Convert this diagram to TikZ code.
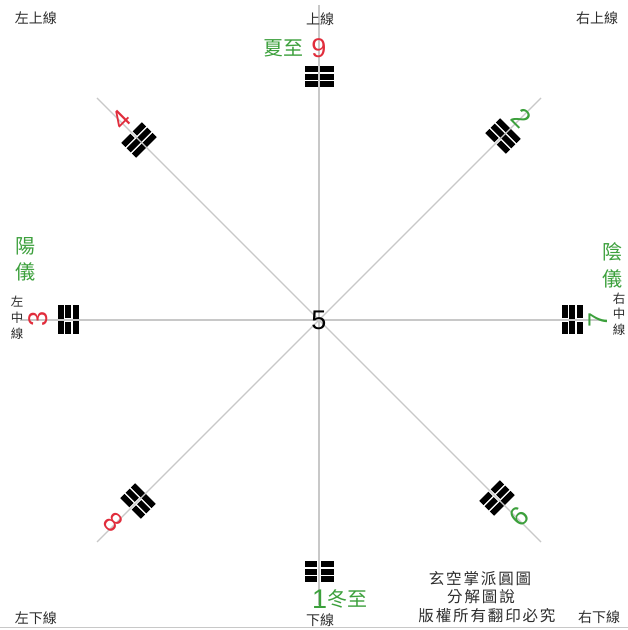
\documentclass[tikz,border=0pt]{standalone}
\usepackage{fontspec}
\newfontfamily\cjk{Noto Sans CJK TC}
\newfontfamily\cjkwide[LetterSpace=12]{Noto Sans CJK TC}
\newfontfamily\numf{Liberation Sans}
\definecolor{tgreen}{RGB}{60,160,60}
\definecolor{tred}{RGB}{225,45,60}
\definecolor{axisgray}{RGB}{200,200,200}
\definecolor{lbl}{RGB}{45,45,45}
\tikzset{
  axisline/.style={draw=axisgray, line width=1.4pt},
  smalllbl/.style={font=\cjk\fontsize{14}{16}\selectfont, text=lbl, inner sep=0pt},
  colchar/.style={font=\cjk\fontsize{12.5}{14}\selectfont, text=lbl, inner sep=0pt},
  greencjk/.style={font=\cjk\fontsize{20}{22}\selectfont, text=tgreen, inner sep=0pt},
  digit/.style={font=\numf\fontsize{27}{29}\selectfont, inner sep=0pt},
  reddigit/.style={digit, text=tred},
  greendigit/.style={digit, text=tgreen},
  notelbl/.style={font=\cjkwide\fontsize{15.5}{17}\selectfont, text=lbl, inner sep=0pt},
}
\newcommand\tgbar[2]{%
  \ifnum#2=1
    \fill (-14.5,#1) rectangle (14.5,#1+6);
  \else
    \fill (-14.5,#1) rectangle (-1.6,#1+6);
    \fill (1.6,#1) rectangle (14.5,#1+6);
  \fi}
\newcommand\trigram[5]{%
  \begin{scope}[shift={#1},rotate=#2]
    \tgbar{-10.5}{#3}
    \tgbar{-3}{#4}
    \tgbar{4.5}{#5}
  \end{scope}}
\begin{document}
\begin{tikzpicture}[x=1pt,y=1pt]
\useasboundingbox (0,0) rectangle (628,630);
\fill[white] (0,0) rectangle (628,630);
% trigrams
\trigram{(319,553)}{0}{1}{1}{1}
\trigram{(319,58)}{180}{0}{0}{0}
\trigram{(68,310)}{90}{1}{0}{1}
\trigram{(572,310)}{-90}{0}{1}{0}
\trigram{(139,490)}{45}{1}{1}{0}
\trigram{(503,494)}{-45}{0}{1}{1}
\trigram{(138,129)}{135}{1}{0}{0}
\trigram{(497,132)}{225}{0}{0}{1}
% axes
\coordinate (vt) at (319,625);
\coordinate (vb) at (319,25);
\coordinate (hl) at (20,310);
\coordinate (hr) at (600,310);
\coordinate (d1a) at (97,532);
\coordinate (d1b) at (541,88);
\coordinate (d2a) at (541,532);
\coordinate (d2b) at (97,88);
\coordinate (bl) at (0,2);
\coordinate (br) at (628,2);
\draw[axisline] (vt) -- (vb);
\draw[axisline] (hl) -- (hr);
\draw[axisline] (d1a) -- (d1b);
\draw[axisline] (d2a) -- (d2b);
\draw[axisgray, line width=1pt] (bl) -- (br);
% corner labels
\node[smalllbl] (ul) at (36,612) {左上線};
\node[smalllbl] (um) at (320,611) {上線};
\node[smalllbl] (ur) at (597,612) {右上線};
\node[smalllbl] (ll) at (36,12) {左下線};
\node[smalllbl] (lm) at (320,10) {下線};
\node[smalllbl] (lr) at (599,13) {右下線};
% top
\node[greencjk] (xz) at (283,582) {夏至};
\node[reddigit] (n9) at (319,582) {9};
% bottom
\node[greendigit, anchor=west] (n1) at (312,31) {1};
\node[greencjk, anchor=west] (dz) at (n1.east) {冬至};
% center
\node[digit] (n5) at (319,310) {5};
% diagonals
\node[reddigit, rotate=45] (n4) at (121,510) {4};
\node[greendigit, rotate=-45] (n2) at (521,512) {2};
\node[reddigit, rotate=-45] (n8) at (113,108) {8};
\node[greendigit, rotate=45] (n6) at (519,113) {6};
% sides
\node[reddigit, rotate=90] (n3) at (38,311) {3};
\node[greendigit, rotate=90] (n7) at (598,310) {7};
\node[greencjk] (yang) at (26,384) {陽};
\node[greencjk] (yi1) at (26,358) {儀};
\node[colchar] (lz) at (17,328) {左};
\node[colchar] (lzh) at (17,312) {中};
\node[colchar] (lx) at (17,296) {線};
\node[greencjk] (yin) at (612,378) {陰};
\node[greencjk] (yi2) at (612,351) {儀};
\node[colchar] (ry) at (619,331) {右};
\node[colchar] (rzh) at (619,316) {中};
\node[colchar] (rx) at (619,300) {線};
% note
\node[notelbl] (t1) at (480,51) {玄空掌派圓圖};
\node[notelbl] (t2) at (481,33) {分解圖說};
\node[notelbl] (t3) at (487,14) {版權所有翻印必究};
\end{tikzpicture}
\end{document}
